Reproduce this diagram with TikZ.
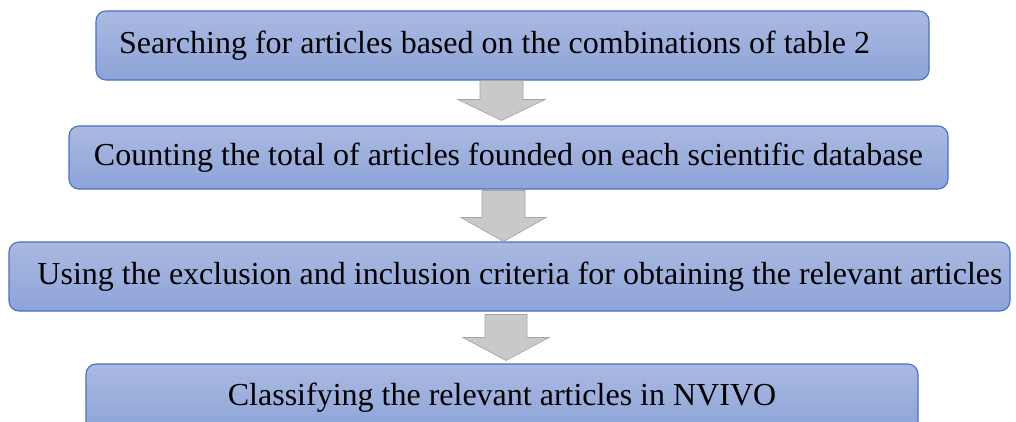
\documentclass[tikz,border=0pt]{standalone}
\usepackage{fontspec}
\setmainfont{Liberation Serif}
\newfontfamily\tnr{Liberation Serif}
\usetikzlibrary{calc}
\definecolor{boxtop}{HTML}{AAB9E1}
\definecolor{boxbot}{HTML}{8DA4D8}
\definecolor{boxline}{HTML}{4472C4}
\definecolor{arrfill}{HTML}{C9C9C9}
\definecolor{arrline}{HTML}{A5A5A5}
\tikzset{
  x=1pt, y=-1pt,
  stepbox/.style={draw=boxline, line width=1.1pt, rounded corners=10pt,
    top color=boxtop, bottom color=boxbot, inner xsep=0pt, inner ysep=0pt,
    font=\tnr\fontsize{32}{38}\selectfont, text=black},
  garrow/.style={fill=arrfill, draw=arrline, line width=0.7pt, line join=miter},
}
\begin{document}
\begin{tikzpicture}
\useasboundingbox (0,0) rectangle (1016,421);
\clip (0,0) rectangle (1016,421);
\node[stepbox, minimum width=833pt, minimum height=69pt] (b1) at (512.5,45.5)
  {\hspace*{-36pt}Searching for articles based on the combinations of table 2};
\node[stepbox, minimum width=879pt, minimum height=63pt] (b2) at (508.5,157.5)
  {\raisebox{-2pt}{Counting the total of articles founded on each scientific database}};
\node[stepbox, minimum width=1001pt, minimum height=69pt] (b3) at (509.5,276.5)
  {\hspace*{21pt}Using the exclusion and inclusion criteria for obtaining the relevant articles};
\node[stepbox, minimum width=832pt, minimum height=68pt] (b4) at (502,398)
  {Classifying the relevant articles in NVIVO};
\coordinate (c1) at (501.5,0);
\coordinate (c2) at (503.5,0);
\coordinate (c3) at (506,0);
% arrow 1
\draw[garrow] ($(b1.south -| c1)+(-21.5,0)$) -- ($(b1.south -| c1)+(21.5,0)$)
  -- ($(b1.south -| c1)+(21.5,19)$) -- ($(b1.south -| c1)+(43.5,19)$)
  -- ($(b2.north -| c1)+(0,-5)$) -- ($(b1.south -| c1)+(-43.5,19)$)
  -- ($(b1.south -| c1)+(-21.5,19)$) -- cycle;
% arrow 2
\draw[garrow] ($(b2.south -| c2)+(-21.5,1)$) -- ($(b2.south -| c2)+(21.5,1)$)
  -- ($(b2.south -| c2)+(21.5,28)$) -- ($(b2.south -| c2)+(42.5,28)$)
  -- ($(b3.north -| c2)+(0,0)$) -- ($(b2.south -| c2)+(-42.5,28)$)
  -- ($(b2.south -| c2)+(-21.5,28)$) -- cycle;
% arrow 3
\draw[garrow] ($(b3.south -| c3)+(-21,3)$) -- ($(b3.south -| c3)+(21,3)$)
  -- ($(b3.south -| c3)+(21,26)$) -- ($(b3.south -| c3)+(43,26)$)
  -- ($(b4.north -| c3)+(0,-3)$) -- ($(b3.south -| c3)+(-43,26)$)
  -- ($(b3.south -| c3)+(-21,26)$) -- cycle;
\end{tikzpicture}
\end{document}
